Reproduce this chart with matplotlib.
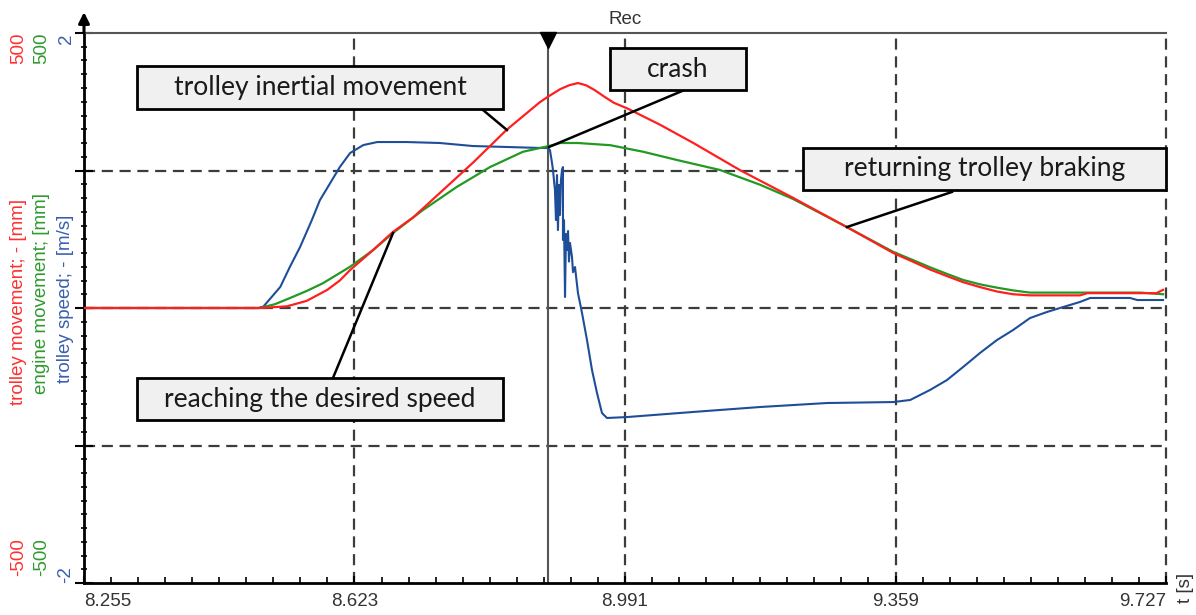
import numpy as np
import matplotlib
matplotlib.use("Agg")
import matplotlib.pyplot as plt
from matplotlib.patches import Rectangle
from matplotlib.ticker import FixedLocator, MultipleLocator

# ---------------- data ----------------
t_red = [8.255, 8.494, 8.531, 8.558, 8.586, 8.603, 8.617, 8.648, 8.675, 8.703, 8.739,
         8.784, 8.830, 8.875, 8.886, 8.903, 8.915, 8.927, 8.938, 8.950, 8.962, 8.976,
         8.994, 9.039, 9.084, 9.147, 9.220, 9.293, 9.356, 9.383, 9.406, 9.429, 9.451,
         9.474, 9.497, 9.519, 9.542, 9.610, 9.620, 9.714, 9.723]
trolley_movement = [0, 0, 3, 13, 33, 50, 69, 105, 138, 165, 209,
                    264, 324, 374, 384, 398, 405, 409, 405, 396, 385, 373,
                    363, 333, 300, 251, 200, 147, 100, 84, 70, 58, 47,
                    38, 30, 25, 23, 23, 27, 27, 33]

t_green = [8.255, 8.494, 8.515, 8.535, 8.558, 8.580, 8.617, 8.648, 8.675, 8.716, 8.762,
           8.807, 8.852, 8.889, 8.903, 8.927, 8.971, 9.016, 9.062, 9.120, 9.175,
           9.220, 9.293, 9.356, 9.383, 9.406, 9.429, 9.451, 9.474, 9.497, 9.519,
           9.542, 9.692, 9.723]
engine_movement = [0, 0, 7, 18, 31, 45, 75, 105, 136, 178, 220,
                   256, 284, 295, 300, 300, 296, 284, 269, 251, 224,
                   198, 147, 102, 87, 74, 62, 51, 43, 37, 32,
                   28, 28, 25]

t_blue = [8.255, 8.492, 8.499, 8.522, 8.535, 8.549, 8.565, 8.576, 8.590, 8.603,
          8.617, 8.635, 8.654, 8.694, 8.739, 8.784, 8.830, 8.875, 8.886,
          8.8889, 8.8917, 8.8930, 8.8957, 8.8971, 8.8985, 8.8998, 8.9012, 8.9025,
          8.9039, 8.9053, 8.9066, 8.9066, 8.9080, 8.9094, 8.9107, 8.9121, 8.9135,
          8.9148, 8.9162, 8.9189, 8.9203, 8.9230, 8.9270, 8.9325, 8.9393,
          8.9461, 8.9529, 8.9597, 8.9665,
          8.994, 9.084, 9.175, 9.266, 9.356, 9.379, 9.406, 9.429, 9.451, 9.474,
          9.497, 9.519, 9.542, 9.565, 9.587, 9.610, 9.624, 9.678, 9.688, 9.723]
trolley_speed = [0, 0, 0.01, 0.153, 0.298, 0.444, 0.640, 0.785, 0.909, 1.025,
                 1.127, 1.185, 1.207, 1.207, 1.200, 1.178, 1.171, 1.164, 1.164,
                 1.149, 1.055, 1.004, 0.858, 0.640, 0.967, 0.567, 0.895, 0.676,
                 0.931, 1.004, 1.025, 0.495, 0.640, 0.080, 0.538, 0.422, 0.560,
                 0.338, 0.473, 0.371, 0.260, 0.298, 0.109, -0.036, -0.233,
                 -0.451, -0.618, -0.764, -0.800,
                 -0.793, -0.756, -0.720, -0.691, -0.684, -0.669, -0.596, -0.524, -0.429, -0.327,
                 -0.233, -0.160, -0.073, -0.029, 0.007, 0.044, 0.073, 0.073, 0.058, 0.058]

x_ticks = [8.255, 8.623, 8.991, 9.359, 9.727]
x_ticklabels = ["8.255", "8.623", "8.991", "9.359", "9.727"]
t_cursor = 8.886

RED = "#ff1f1f"
GREEN = "#229a22"
BLUE = "#1f4e99"

# ---------------- figure ----------------
W, H = 1196, 615
fig = plt.figure(figsize=(W / 100, H / 100), dpi=100)
fig.patch.set_facecolor("white")
ax = fig.add_axes([84 / W, 32 / H, 1082 / W, 550 / H])
ax.set_xlim(8.255, 9.727)
ax.set_ylim(-2, 2)

# grid (manual, dashed)
gkw = dict(color="#3c3c3c", lw=1.6, ls=(0, (5, 3)), zorder=1)
for yv in (-1, 0, 1):
    ax.axhline(yv, **gkw)
for xv in x_ticks[1:]:
    ax.axvline(xv, clip_on=False, **gkw)

# speed line
ax.plot(t_blue, trolley_speed, color=BLUE, lw=1.5, zorder=3)

# cursor
ax.axvline(t_cursor, color="#555555", lw=1.5, zorder=2)
ax.plot([t_cursor], [1.95], marker="v", ms=11, color="black", clip_on=False, zorder=12)

# spines
ax.spines["right"].set_visible(False)
ax.spines["left"].set_linewidth(2)
ax.spines["bottom"].set_linewidth(2)
ax.spines["top"].set_linewidth(1.5)
ax.spines["top"].set_color("#555555")

# ticks
ax.set_yticks([-2, -1, 0, 1, 2])
ax.yaxis.set_minor_locator(MultipleLocator(0.1))
ax.tick_params(axis="y", which="major", direction="inout", length=13, width=1.5, labelleft=False)
ax.tick_params(axis="y", which="minor", direction="inout", length=4, width=1.2)
ax.set_xticks(x_ticks)
ax.set_xticklabels(x_ticklabels)
ax.xaxis.set_minor_locator(FixedLocator([8.255 + 0.0368 * k for k in range(41)]))
ax.tick_params(axis="x", which="major", direction="in", length=5, width=1.5, pad=7,
               labelsize=13.5, labelcolor="#333333")
ax.tick_params(axis="x", which="minor", direction="in", length=4, width=1.2)
for lab in ax.get_xticklabels():
    lab.set_fontfamily("Liberation Sans")
labs = ax.get_xticklabels()
labs[0].set_horizontalalignment("left")
labs[-1].set_horizontalalignment("right")

# arrow at top of left axis
ax.annotate("", xy=(0, 1.043), xytext=(0, 0.995), xycoords="axes fraction",
            arrowprops=dict(arrowstyle="-|>", color="black", lw=2.2, mutation_scale=16),
            annotation_clip=False)

# movement lines on twin axis
ax2 = ax.twinx()
ax2.set_ylim(-500, 500)
ax2.axis("off")
ax2.plot(t_green, engine_movement, color=GREEN, lw=1.6, zorder=4)
ax2.plot(t_red, trolley_movement, color=RED, lw=1.6, zorder=5)

# annotation boxes (in speed-axis data coordinates)
boxes = [
    ("trolley inertial movement", 8.3271, 1.447, 8.8250, 1.760, (8.7978, 1.440), (8.8304, 1.2945)),
    ("crash", 8.9706, 1.585, 9.1556, 1.891, (9.0753, 1.593), (8.8876, 1.171)),
    ("returning trolley braking", 9.2331, 0.858, 9.7270, 1.164, (9.4358, 0.844), (9.2930, 0.589)),
    ("reaching the desired speed", 8.3271, -0.815, 8.8250, -0.509, (8.5937, -0.509), (8.6754, 0.545)),
]
for txt, x0, y0, x1, y1, p0, p1 in boxes:
    ax2.plot([p0[0], p1[0]], [p0[1], p1[1]], transform=ax.transData, color="black",
             lw=1.8, zorder=9, clip_on=False)
    r = Rectangle((x0, y0), x1 - x0, y1 - y0, transform=ax.transData, facecolor="#f0f0f0",
                  edgecolor="black", lw=2, zorder=10, clip_on=False)
    ax2.add_patch(r)
    ax2.text((x0 + x1) / 2, (y0 + y1) / 2, txt, transform=ax.transData, ha="center",
             va="center", fontsize=19, family="Lato", color="#1a1a1a", zorder=11)

# left labels
def fx(px):
    return px / W

def fy(py):
    return (H - py) / H

lab_kw = dict(rotation=90, fontsize=13.5, family="Liberation Sans", ha="center")
fig.text(fx(19), fy(33), "500", color="#ff3030", va="top", **lab_kw)
fig.text(fx(42), fy(33), "500", color="#2e9a2e", va="top", **lab_kw)
fig.text(fx(66), fy(33), "2", color="#3a5fae", va="top", **lab_kw)
fig.text(fx(19), fy(576), "-500", color="#ff3030", va="bottom", **lab_kw)
fig.text(fx(42), fy(576), "-500", color="#2e9a2e", va="bottom", **lab_kw)
fig.text(fx(66), fy(583), "-2", color="#3a5fae", va="bottom", **lab_kw)
fig.text(fx(19), fy(302), "trolley movement; - [mm]", color="#ff3030", va="center", **lab_kw)
fig.text(fx(42), fy(294), "engine movement; [mm]", color="#2e9a2e", va="center", **lab_kw)
fig.text(fx(66), fy(299), "trolley speed; - [m/s]", color="#3a5fae", va="center", **lab_kw)

fig.text(fx(1185), fy(588), "t [s]", color="#333333", va="center", **lab_kw)
fig.text(fx(625), fy(20), "Rec", color="#333333", ha="center", va="center",
         fontsize=13.5, family="Liberation Sans")

fig.savefig("out.png", dpi=100)
